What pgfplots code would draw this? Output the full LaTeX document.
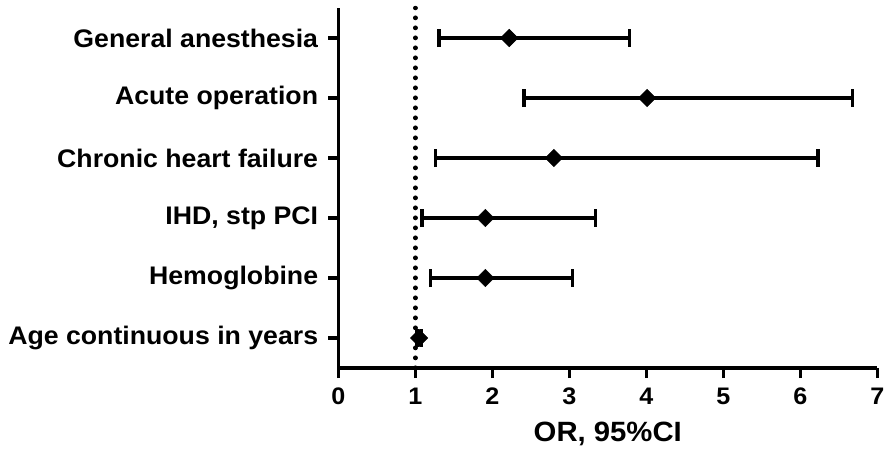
\documentclass[border=0pt]{standalone}
\usepackage{fontspec}
\setmainfont{Liberation Sans}[FakeStretch=1.05]
\usepackage{pgfplots}
\usepackage{pgfplotstable}
\pgfplotsset{compat=1.18}

% y: row position (1 = bottom), or: odds ratio, lo/hi: 95% CI
\pgfplotstableread{
y  or    lo    hi
6  2.22  1.31  3.78
5  4.01  2.41  6.68
4  2.80  1.26  6.23
3  1.91  1.09  3.34
2  1.91  1.20  3.04
1  1.05  1.02  1.08
}\ordata

\newcommand{\lblfont}{\bfseries\fontsize{25.5}{29}\selectfont}

\begin{document}
\begin{tikzpicture}
\useasboundingbox (0,0) rectangle (885bp,-454bp);
\begin{axis}[
  at={(338.3bp,-368bp)}, anchor=south west,
  scale only axis, width=539bp, height=360bp,
  xmin=0, xmax=7, ymin=0.5, ymax=6.5,
  axis lines=left,
  axis line style={-, line width=3.5bp},
  xtick={0,...,7}, ytick={1,...,6},
  yticklabels={Age continuous in years, Hemoglobine, {IHD, stp PCI},
    Chronic heart failure, Acute operation, General anesthesia},
  tick align=outside, major tick length=10bp,
  every tick/.style={black, line width=3.5bp},
  tick label style={font=\lblfont, inner sep=0pt},
  xticklabel style={font=\bfseries\fontsize{24}{28}\selectfont},
  /pgf/number format/assume math mode=true,
  xticklabel shift=10bp, yticklabel shift=10bp,
  xlabel={OR, 95\%CI},
  xlabel style={font=\bfseries\fontsize{28}{32}\selectfont, inner sep=0pt,
    anchor=north, at={(axis description cs:0.5,0)}, yshift=-54bp},
  clip=false,
]
\addplot[black, line width=4.5bp, line cap=round, dash pattern=on 0.3bp off 9.7bp]
  coordinates {(1,0.5) (1,6.5)};
\addplot[black, only marks, mark=square*, mark size=6.2bp,
  mark options={rotate=45, fill=black},
  error bars/.cd, x dir=both, x explicit, error mark=|,
  error bar style={line width=3.5bp, black},
  error mark options={mark size=9bp, line width=3.5bp, black}]
  table[x=or, y=y,
    x error plus expr=\thisrow{hi}-\thisrow{or},
    x error minus expr=\thisrow{or}-\thisrow{lo}] {\ordata};
\end{axis}
\end{tikzpicture}
\end{document}
